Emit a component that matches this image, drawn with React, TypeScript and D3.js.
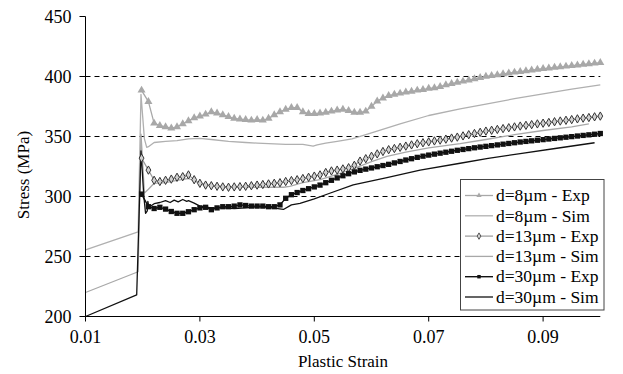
import React from "react";
import * as d3 from "d3";

const strainExp = [
  0.0198, 0.021, 0.022, 0.023, 0.024, 0.025, 0.026, 0.027, 0.028, 0.029,
  0.030, 0.031, 0.032, 0.033, 0.034, 0.035, 0.036, 0.037, 0.038, 0.039,
  0.040, 0.041, 0.042, 0.043, 0.044, 0.045, 0.046, 0.047, 0.048, 0.049,
  0.050, 0.051, 0.052, 0.053, 0.054, 0.055, 0.056, 0.057, 0.058, 0.059,
  0.060, 0.061, 0.062, 0.063, 0.064, 0.065, 0.066, 0.067, 0.068, 0.069,
  0.070, 0.071, 0.072, 0.073, 0.074, 0.075, 0.076, 0.077, 0.078, 0.079,
  0.080, 0.081, 0.082, 0.083, 0.084, 0.085, 0.086, 0.087, 0.088, 0.089,
  0.090, 0.091, 0.092, 0.093, 0.094, 0.095, 0.096, 0.097, 0.098, 0.099,
  0.100,
];

const stress8Exp = [
  388.5, 379, 361, 359, 358, 357, 358, 360.5, 363, 365.5,
  367, 368.5, 370.5, 369.5, 368, 366.5, 365, 364.5, 364, 363.5,
  364, 363.5, 365, 368, 370.5, 372.5, 374, 374, 370.5, 369,
  369, 369.5, 370, 371, 372, 372.5, 371.5, 370, 370, 371,
  375, 379.5, 382, 384, 385, 386, 387, 387.5, 388.5, 389,
  390, 390.5, 391.5, 393, 394, 395, 396, 397, 398, 399,
  400, 400.7, 401.4, 402.1, 402.8, 403.5, 404.1, 404.7, 405.3, 405.9,
  406.5, 407, 407.5, 408, 408.5, 409, 409.5, 410, 410.5, 411,
  411.5,
];

const stress13Exp = [
  332, 322, 313.5, 312.5, 313.5, 314.5, 316, 316.5, 318, 314,
  311, 309.5, 309, 308.5, 308, 307.7, 308, 308.2, 308.5, 309,
  309.5, 310, 310.5, 311, 311.5, 312.5, 313.3, 314, 315, 316,
  317, 318, 320, 321.3, 322, 323, 324, 326, 329.5, 331.5,
  333.5, 335.5, 337.5, 339, 340, 341, 342, 343, 344, 344.8,
  345.5, 346.3, 347, 347.8, 348.7, 349.5, 350.5, 351.5, 352.5, 353.5,
  354.5, 355.2, 355.9, 356.6, 357.3, 358, 358.7, 359.3, 359.9, 360.5,
  361.1, 361.7, 362.3, 362.9, 363.5, 364.1, 364.7, 365.3, 365.8, 366.4,
  367,
];

const stress30Exp = [
  302, 291.5, 290, 291, 289.5, 287.5, 286, 286, 287.3, 289,
  290.5, 291, 289, 290.5, 291.5, 291.5, 292, 293, 292.5, 292,
  292, 292, 291.5, 291.5, 293, 298.5, 301.5, 303.3, 305, 306.5,
  308, 309.5, 311.5, 313.5, 315.5, 317.3, 319, 320.5, 321.8, 322.8,
  323.8, 324.8, 325.8, 326.8, 328, 329.2, 330.4, 331.5, 332.6, 333.6,
  334.5, 335.3, 336.1, 336.9, 337.7, 338.5, 339.2, 339.9, 340.6, 341.2,
  341.8, 342.4, 343, 343.6, 344.2, 344.8, 345.4, 345.9, 346.4, 346.9,
  347.4, 347.9, 348.4, 348.9, 349.4, 349.9, 350.4, 350.9, 351.4, 351.9,
  352.5,
];

const strain8Sim = [
  0.01, 0.0192, 0.0197, 0.0203, 0.0207, 0.021, 0.022, 0.024, 0.026, 0.028,
  0.030, 0.032, 0.035, 0.038, 0.040, 0.045, 0.048, 0.0498, 0.0505, 0.052,
  0.054, 0.0566, 0.060, 0.065, 0.070, 0.0755, 0.080, 0.085, 0.090, 0.095,
  0.100,
];
const stress8Sim = [
  255.5, 270.5, 385, 348, 341, 341.5, 345, 346, 346.5, 348,
  348.5, 347.5, 346, 345, 344.5, 343.5, 343.5, 342, 343, 344.5,
  346, 348, 353, 360.5, 367.5, 373, 377, 381.5, 385.5, 389.5,
  393,
];

const strain13Sim = [
  0.01, 0.0192, 0.0197, 0.0203, 0.021, 0.022, 0.024, 0.026, 0.028, 0.030,
  0.032, 0.035, 0.040, 0.0446, 0.0457, 0.048, 0.051, 0.054, 0.057, 0.060,
  0.0627, 0.066, 0.070, 0.0755, 0.080, 0.085, 0.090, 0.095, 0.098,
];
const stress13Sim = [
  220, 237.3, 352, 303, 306, 311, 311.5, 313.5, 315, 311,
  309, 308, 307.7, 307.7, 308.5, 311.5, 314, 318.5, 323.5, 329,
  333.5, 337, 340.5, 344, 347.5, 351.5, 355, 358, 360.5,
];

const strain30Sim = [
  0.01, 0.01895, 0.0197, 0.0202, 0.0205, 0.0208, 0.0209, 0.0211,
  0.022, 0.023, 0.024, 0.0248, 0.0255, 0.0262, 0.027, 0.0277, 0.028, 0.029, 0.030,
  0.032, 0.034, 0.036, 0.038, 0.040, 0.042, 0.0446, 0.046, 0.0475, 0.050,
  0.0527, 0.0568, 0.0627, 0.0685, 0.0755, 0.0804, 0.0863, 0.0921, 0.099,
];
const stress30Sim = [
  200, 218, 338, 300, 286, 288, 296, 291,
  294, 295, 296.5, 295, 297, 295.5, 297.5, 296, 296.5, 294.5, 292,
  290.5, 290.5, 290, 290.5, 291.5, 291, 289.2, 293, 294.3, 298,
  302.7, 309.6, 315.7, 322, 327.7, 331.8, 336, 340, 344.8,
];

const xTicks = [0.01, 0.03, 0.05, 0.07, 0.09];
const xTickLabels = ["0.01", "0.03", "0.05", "0.07", "0.09"];
const yTicks = [200, 250, 300, 350, 400, 450];
const yGrid = [250, 300, 350, 400];
const legendLabels = [
  "d=8\u00b5m - Exp",
  "d=8\u00b5m - Sim",
  "d=13\u00b5m - Exp",
  "d=13\u00b5m - Sim",
  "d=30\u00b5m - Exp",
  "d=30\u00b5m - Sim",
];

const FONT = "Liberation Serif, Times New Roman, Tinos, serif";

type Series = {
  xs: number[];
  ys: number[];
  color: string;
  width: number;
  marker: "triangle" | "diamond" | "square" | null;
  mFill?: string;
  mStroke?: string;
  mSize?: number;
  lSize?: number;
};

export default function App() {
  const W = 623;
  const H = 374;
  const x = d3.scaleLinear().domain([0.01, 0.1]).range([85.5, 600.3]);
  const y = d3.scaleLinear().domain([200, 450]).range([316.5, 16.5]);

  const series: Series[] = [
    { xs: strainExp, ys: stress8Exp, color: "#a8a8a8", width: 1.3, marker: "triangle", mFill: "#a8a8a8", mStroke: "none", mSize: 28, lSize: 12 },
    { xs: strain8Sim, ys: stress8Sim, color: "#b0b0b0", width: 1.3, marker: null },
    { xs: strainExp, ys: stress13Exp, color: "#999999", width: 1.2, marker: "diamond", mFill: "#d0d0d0", mStroke: "#333333", mSize: 20, lSize: 12 },
    { xs: strain13Sim, ys: stress13Sim, color: "#a8a8a8", width: 1.3, marker: null },
    { xs: strainExp, ys: stress30Exp, color: "#111111", width: 1.4, marker: "square", mFill: "#111111", mStroke: "none", mSize: 28, lSize: 12 },
    { xs: strain30Sim, ys: stress30Sim, color: "#111111", width: 1.3, marker: null },
  ];

  const symType = (m: string) =>
    m === "triangle" ? d3.symbolTriangle : m === "diamond" ? d3.symbolDiamond : d3.symbolSquare;

  const line = d3
    .line<[number, number]>()
    .x((d) => x(d[0]))
    .y((d) => y(d[1]));

  const drawOrder = [1, 3, 5, 0, 2, 4];

  const legX = 460.5;
  const legY = 179.5;
  const legW = 143.5;
  const legH = 130.5;
  const rowY = d3.scaleLinear().domain([0, 5]).range([195.5, 297]);

  const txt = { fontFamily: FONT };

  return (
    <>
      <style>{`body{margin:0;} svg text{font-family: "Liberation Serif", "Times New Roman", serif;}`}</style>
      <svg width={W} height={H} style={{ display: "block", background: "#fff" }}>
        <rect x={0} y={0} width={W} height={H} fill="#fff" />
        {yGrid.map((v) => (
          <line key={v} x1={x(0.01)} x2={x(0.1)} y1={y(v)} y2={y(v)} stroke="#000" strokeWidth={1} strokeDasharray="5,4" />
        ))}
        {drawOrder.map((i) => {
          const s = series[i];
          const pts = s.xs.map((v, k) => [v, s.ys[k]] as [number, number]);
          return (
            <g key={i}>
              <path d={line(pts) || ""} fill="none" stroke={s.color} strokeWidth={s.width} strokeLinejoin="round" />
              {s.marker &&
                pts.map((p, k) => (
                  <path
                    key={k}
                    transform={`translate(${x(p[0])},${y(p[1])})`}
                    d={d3.symbol().type(symType(s.marker as string)).size(s.mSize || 20)() || ""}
                    fill={s.mFill}
                    stroke={s.mStroke}
                    strokeWidth={1}
                  />
                ))}
            </g>
          );
        })}
        <line x1={x(0.01)} x2={x(0.01)} y1={y(450)} y2={y(200)} stroke="#000" strokeWidth={1} />
        <line x1={x(0.01)} x2={x(0.1)} y1={y(200)} y2={y(200)} stroke="#000" strokeWidth={1} />
        {yTicks.map((v) => (
          <g key={v}>
            <line x1={x(0.01) - 6} x2={x(0.01)} y1={y(v)} y2={y(v)} stroke="#000" />
            <text x={x(0.01) - 14} y={y(v)} dy="0.35em" textAnchor="end" fontSize={18} fill="#000" style={txt}>
              {v}
            </text>
          </g>
        ))}
        {xTicks.map((v, i) => (
          <g key={v}>
            <line x1={x(v)} x2={x(v)} y1={y(200)} y2={y(200) + 5} stroke="#000" />
            <text x={x(v)} y={342.5} textAnchor="middle" fontSize={18} fill="#000" style={txt}>
              {xTickLabels[i]}
            </text>
          </g>
        ))}
        <text x={343} y={367} textAnchor="middle" fontSize={17} fill="#000" style={txt}>
          Plastic Strain
        </text>
        <text transform={`translate(29,175) rotate(-90)`} textAnchor="middle" fontSize={17} fill="#000" style={txt}>
          Stress (MPa)
        </text>
        <rect x={legX} y={legY} width={legW} height={legH} fill="#fff" stroke="#444" strokeWidth={1} />
        {series.map((s, i) => {
          const ry = rowY(i);
          return (
            <g key={i}>
              <line x1={465} x2={493} y1={ry} y2={ry} stroke={s.color} strokeWidth={s.width} />
              {s.marker && (
                <path
                  transform={`translate(479,${ry})`}
                  d={d3.symbol().type(symType(s.marker)).size(s.lSize || 12)() || ""}
                  fill={s.mFill}
                  stroke={s.mStroke}
                  strokeWidth={0.8}
                />
              )}
              <text x={496} y={ry} dy="0.33em" fontSize={17.5} fill="#000" style={txt}>
                {legendLabels[i]}
              </text>
            </g>
          );
        })}
      </svg>
    </>
  );
}
